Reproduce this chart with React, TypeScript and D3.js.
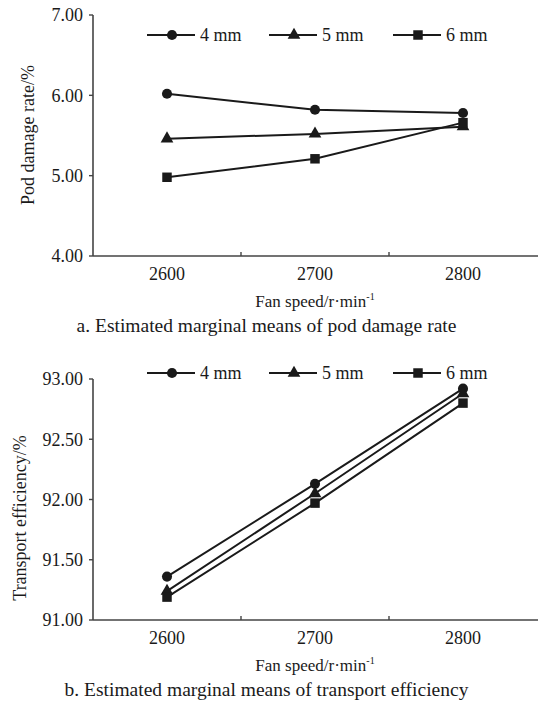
import React from "react";
import * as d3 from "d3";

const speeds = ["2600", "2700", "2800"];
const seriesNames = ["4 mm", "5 mm", "6 mm"];
const symbols = ["circle", "triangle", "square"];

const damage4 = [6.02, 5.82, 5.78];
const damage5 = [5.46, 5.52, 5.61];
const damage6 = [4.98, 5.21, 5.66];
const damageTicks = [4, 5, 6, 7];

const eff4 = [91.36, 92.13, 92.92];
const eff5 = [91.24, 92.05, 92.88];
const eff6 = [91.19, 91.97, 92.8];
const effTicks = [91, 91.5, 92, 92.5, 93];

const W = 541;
const H = 710;
const FONT = "'Liberation Serif', 'Times New Roman', serif";
const INK = "#1a1a1a";
const AXIS = "#444";

function Marker({ type, x, y }: { type: string; x: number; y: number }) {
  const sym =
    type === "circle" ? d3.symbolCircle : type === "triangle" ? d3.symbolTriangle : d3.symbolSquare;
  const size = type === "circle" ? 80 : type === "triangle" ? 70 : 90;
  const path = d3.symbol().type(sym).size(size)() as string;
  return <path d={path} transform={`translate(${x},${y})`} fill={INK} />;
}

function Panel({
  top,
  bottom,
  domain,
  ticks,
  series,
  yTitle,
  yTitleX,
  yTitleY,
  legendY,
  caption,
}: {
  top: number;
  bottom: number;
  domain: [number, number];
  ticks: number[];
  series: number[][];
  yTitle: string;
  yTitleX: number;
  yTitleY: number;
  legendY: number;
  caption: string;
}) {
  const left = 93;
  const bandW = 148;
  const x = d3
    .scaleBand<string>()
    .domain(speeds)
    .range([left, left + bandW * speeds.length])
    .padding(0);
  const y = d3.scaleLinear().domain(domain).range([bottom, top]);
  const line = d3
    .line<number>()
    .x((_, i) => (x(speeds[i]) as number) + x.bandwidth() / 2)
    .y((d) => y(d));
  const legendX = [147, 269, 393];

  return (
    <g>
      {/* axes */}
      <line x1={left} x2={left} y1={top} y2={bottom} stroke={AXIS} strokeWidth={1.6} />
      <line x1={left} x2={538} y1={bottom} y2={bottom} stroke={AXIS} strokeWidth={1.6} />
      {ticks.map((t) => (
        <g key={t}>
          <line x1={left - 4} x2={left} y1={y(t)} y2={y(t)} stroke={AXIS} strokeWidth={1.4} />
          <text
            x={left - 10}
            y={y(t)}
            dy="0.35em"
            textAnchor="end"
            fontSize={18}
            fontFamily={FONT}
            fill={INK}
          >
            {t.toFixed(2)}
          </text>
        </g>
      ))}
      {speeds.slice(1).map((s) => (
        <line
          key={s}
          x1={x(s) as number}
          x2={x(s) as number}
          y1={bottom}
          y2={bottom - 4}
          stroke={AXIS}
          strokeWidth={1.4}
        />
      ))}
      {speeds.map((s) => (
        <text
          key={s}
          x={(x(s) as number) + x.bandwidth() / 2}
          y={bottom + 24}
          textAnchor="middle"
          fontSize={18}
          fontFamily={FONT}
          fill={INK}
        >
          {s}
        </text>
      ))}
      <text
        x={(x("2700") as number) + x.bandwidth() / 2}
        y={bottom + 51}
        textAnchor="middle"
        fontSize={17}
        fontFamily={FONT}
        fill={INK}
      >
        Fan speed/r·min
        <tspan dy={-7} fontSize={10}>
          -1
        </tspan>
      </text>
      <text
        x={W / 2 - 4}
        y={bottom + 76}
        textAnchor="middle"
        fontSize={19.5}
        fontFamily={FONT}
        fill={INK}
      >
        {caption}
      </text>
      <text
        transform={`translate(${yTitleX},${yTitleY}) rotate(-90)`}
        textAnchor="middle"
        dy="0.35em"
        fontSize={18}
        fontFamily={FONT}
        fill={INK}
      >
        {yTitle}
      </text>
      {/* series */}
      {series.map((vals, si) => (
        <g key={si}>
          <path d={line(vals) as string} fill="none" stroke={INK} strokeWidth={2} />
          {vals.map((v, i) => (
            <Marker
              key={i}
              type={symbols[si]}
              x={(x(speeds[i]) as number) + x.bandwidth() / 2}
              y={y(v)}
            />
          ))}
        </g>
      ))}
      {/* legend */}
      {seriesNames.map((n, i) => (
        <g key={n}>
          <line
            x1={legendX[i]}
            x2={legendX[i] + 48}
            y1={legendY}
            y2={legendY}
            stroke={INK}
            strokeWidth={2}
          />
          <Marker type={symbols[i]} x={legendX[i] + 25} y={legendY} />
          <text
            x={legendX[i] + 53}
            y={legendY}
            dy="0.35em"
            fontSize={18}
            fontFamily={FONT}
            fill={INK}
          >
            {n}
          </text>
        </g>
      ))}
    </g>
  );
}

export default function App() {
  return (
    <svg
      width={W}
      height={H}
      viewBox={`0 0 ${W} ${H}`}
      style={{ position: "absolute", left: 0, top: 0, background: "#fff" }}
    >
      <rect width={W} height={H} fill="#fff" />
      <Panel
        top={15}
        bottom={256}
        domain={[4, 7]}
        ticks={damageTicks}
        series={[damage4, damage5, damage6]}
        yTitle="Pod damage rate/%"
        yTitleX={28}
        yTitleY={135}
        legendY={35}
        caption="a. Estimated marginal means of pod damage rate"
      />
      <Panel
        top={379}
        bottom={620}
        domain={[91, 93]}
        ticks={effTicks}
        series={[eff4, eff5, eff6]}
        yTitle="Transport efficiency/%"
        yTitleX={20}
        yTitleY={518}
        legendY={373}
        caption="b. Estimated marginal means of transport efficiency"
      />
    </svg>
  );
}
